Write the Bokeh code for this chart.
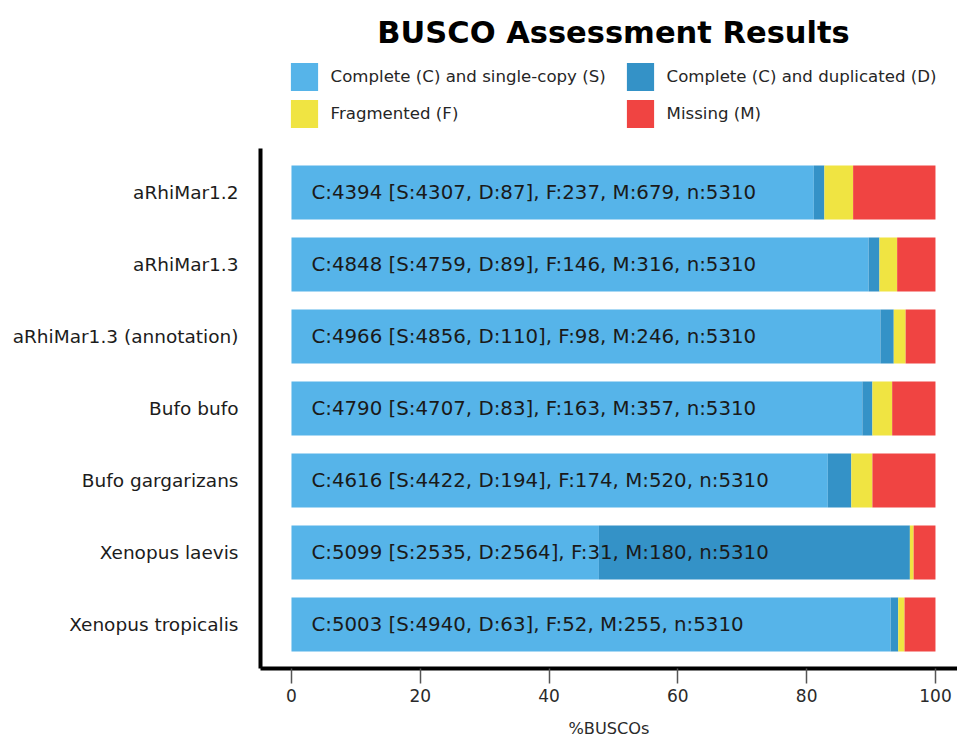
from bokeh.plotting import figure
from bokeh.models import (ColumnDataSource, Range1d, FixedTicker,
                          Legend, LegendItem, Label)
from bokeh.core.properties import value
from bokeh.embed import file_html
from bokeh.resources import INLINE

# BUSCO counts per assembly (vertebrata lineage, n = 5310)
assemblies = [
    "aRhiMar1.2",
    "aRhiMar1.3",
    "aRhiMar1.3 (annotation)",
    "Bufo bufo",
    "Bufo gargarizans",
    "Xenopus laevis",
    "Xenopus tropicalis",
]
single = [4307, 4759, 4856, 4707, 4422, 2535, 4940]
duplicated = [87, 89, 110, 83, 194, 2564, 63]
fragmented = [237, 146, 98, 163, 174, 31, 52]
missing = [679, 316, 246, 357, 520, 180, 255]
total = 5310

category_names = [
    "Complete (C) and single-copy (S)",
    "Complete (C) and duplicated (D)",
    "Fragmented (F)",
    "Missing (M)",
]
category_colors = ["#56B4E9", "#3492C7", "#F0E442", "#F04442"]
x_ticks = [0, 20, 40, 60, 80, 100]

FONT = "DejaVu Sans"
W, H = 957, 742
FRAME_H = 668          # frame spans from the page top down to the x axis


def percent(counts):
    return [100.0 * c / total for c in counts]


# first assembly on top
rows = list(range(len(assemblies)))[::-1]

summary = [
    f"C:{s + d} [S:{s}, D:{d}], F:{f}, M:{m}, n:{total}"
    for s, d, f, m in zip(single, duplicated, fragmented, missing)
]

source = ColumnDataSource(dict(
    row=rows,
    S=percent(single),
    D=percent(duplicated),
    F=percent(fragmented),
    M=percent(missing),
    summary=summary,
))

# 72 px per row; extra room above the bars holds the title and legend
pad = 0.611
y_top = -pad + FRAME_H / 72.0

p = figure(
    width=W, height=H,
    x_range=Range1d(-4.81, 103.42), y_range=Range1d(-pad, y_top),
    output_backend="svg", toolbar_location=None,
    min_border_left=260, min_border_right=0,
    min_border_top=0, min_border_bottom=H - FRAME_H,
    outline_line_color=None,
)
p.grid.visible = False

bars = p.hbar_stack(["S", "D", "F", "M"], y="row", height=0.75,
                    color=category_colors, line_color=None, source=source)

p.text(x=3.1, y="row", text="summary", source=source,
       text_font=value(FONT), text_font_size="19.8px",
       text_baseline="middle", text_align="left", text_color="#1a1a1a")

# x axis
xa = p.xaxis[0]
xa.ticker = FixedTicker(ticks=x_ticks)
xa.axis_line_width = 4
xa.axis_line_color = "black"
xa.major_tick_in = 0
xa.major_tick_out = 15
xa.major_tick_line_color = "#555555"
xa.major_tick_line_width = 1.5
xa.minor_tick_line_color = None
xa.major_label_text_font = FONT
xa.major_label_text_font_size = "17px"
xa.major_label_text_color = "#2a2a2a"
xa.axis_label = "%BUSCOs"
xa.axis_label_text_font = FONT
xa.axis_label_text_font_style = "normal"
xa.axis_label_text_font_size = "16.2px"
xa.axis_label_text_color = "#2a2a2a"
xa.axis_label_standoff = 14

# y axis: one label per assembly, line limited to the bar area
ya = p.yaxis[0]
ya.ticker = FixedTicker(ticks=rows)
ya.major_label_overrides = {r: name for r, name in zip(rows, assemblies)}
ya.bounds = (-pad, len(assemblies) - 1 + pad)
ya.axis_line_width = 4
ya.axis_line_color = "black"
ya.major_tick_in = 0
ya.major_tick_out = 0
ya.minor_tick_line_color = None
ya.major_label_standoff = 22
ya.major_label_text_font = FONT
ya.major_label_text_font_size = "18.5px"
ya.major_label_text_color = "#1c1c1c"

# two-column legend above the bars
legend_style = dict(
    glyph_width=34, glyph_height=35, spacing=2, label_standoff=10,
    padding=10, border_line_color=None, background_fill_alpha=0,
    label_text_font=FONT, label_text_font_size="16.6px",
    label_text_color="#262626", orientation="vertical",
)
left_legend = Legend(
    items=[LegendItem(label=category_names[0], renderers=[bars[0]]),
           LegendItem(label=category_names[2], renderers=[bars[2]])],
    location=(26.6, FRAME_H - 130.5), **legend_style)
right_legend = Legend(
    items=[LegendItem(label=category_names[1], renderers=[bars[1]]),
           LegendItem(label=category_names[3], renderers=[bars[3]])],
    location=(362.6, FRAME_H - 130.5), **legend_style)
p.add_layout(left_legend)
p.add_layout(right_legend)

p.add_layout(Label(
    x=353, y=FRAME_H - 32, x_units="screen", y_units="screen",
    text="BUSCO Assessment Results", text_font=FONT,
    text_font_style="bold", text_font_size="30.5px",
    text_align="center", text_baseline="middle", text_color="black"))

open("out.html", "w").write(file_html(p, INLINE))
